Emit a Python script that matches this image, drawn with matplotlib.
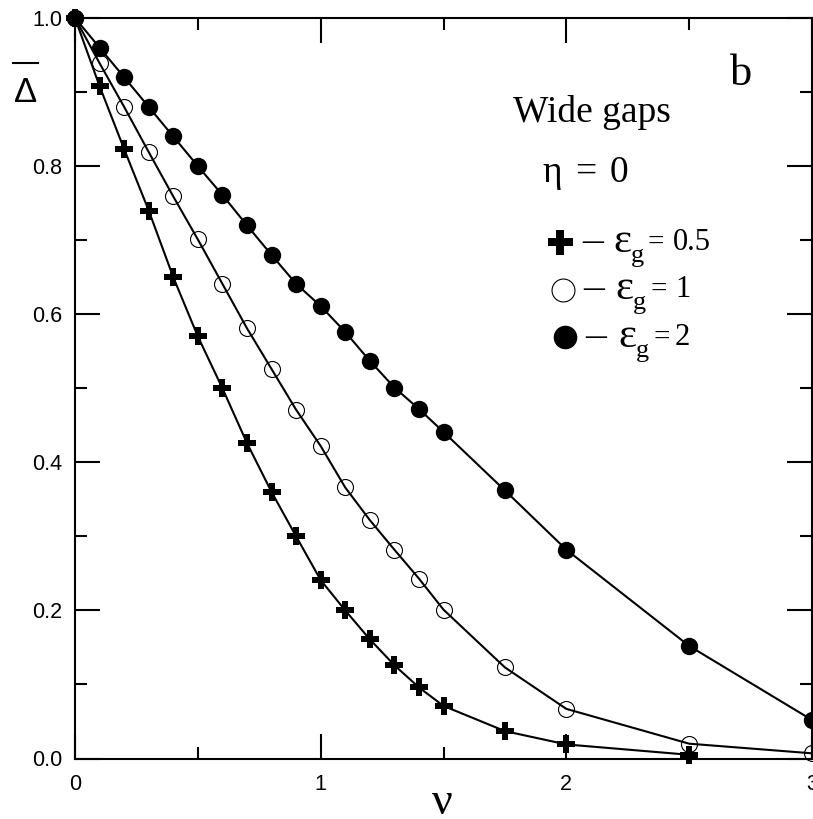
import matplotlib
matplotlib.use("Agg")
import matplotlib.pyplot as plt
from matplotlib.lines import Line2D

# nu values and mean gap for the three eps_g curves
nu_05 = [0, 0.1, 0.2, 0.3, 0.4, 0.5, 0.6, 0.7, 0.8, 0.9, 1.0, 1.1, 1.2, 1.3,
         1.4, 1.5, 1.75, 2.0, 2.5]
gap_05 = [1.0, 0.908, 0.823, 0.740, 0.650, 0.570, 0.500, 0.426, 0.360, 0.300,
          0.241, 0.200, 0.161, 0.126, 0.096, 0.071, 0.037, 0.019, 0.005]

nu_1 = [0, 0.1, 0.2, 0.3, 0.4, 0.5, 0.6, 0.7, 0.8, 0.9, 1.0, 1.1, 1.2, 1.3,
        1.4, 1.5, 1.75, 2.0, 2.5, 3.0]
gap_1 = [1.0, 0.939, 0.880, 0.819, 0.759, 0.701, 0.641, 0.581, 0.526, 0.471,
         0.422, 0.366, 0.322, 0.282, 0.243, 0.201, 0.123, 0.067, 0.020, 0.007]

nu_2 = [0, 0.1, 0.2, 0.3, 0.4, 0.5, 0.6, 0.7, 0.8, 0.9, 1.0, 1.1, 1.2, 1.3,
        1.4, 1.5, 1.75, 2.0, 2.5, 3.0]
gap_2 = [1.0, 0.960, 0.920, 0.880, 0.840, 0.800, 0.761, 0.720, 0.680, 0.641,
         0.611, 0.576, 0.537, 0.501, 0.472, 0.441, 0.362, 0.282, 0.152, 0.052]

eps_labels = ["0.5", "1", "2"]

x_ticks = [0, 1, 2, 3]
x_ticklabels = ["0", "1", "2", "3"]
y_ticks = [0.0, 0.2, 0.4, 0.6, 0.8, 1.0]
y_ticklabels = ["0.0", "0.2", "0.4", "0.6", "0.8", "1.0"]

W, H, DPI = 813, 819, 100
SERIF = "Liberation Serif"
SANS = "Liberation Sans"


def fx(px):
    return px / W


def fy(py):
    return 1 - py / H


def ftext(fig, x, y, s, size, family=SERIF, **kw):
    # text placed by pixel position (left, baseline)
    return fig.text(fx(x), fy(y), s, family=family, fontsize=size,
                    va="baseline", **kw)


def main():
    plt.rcParams["font.family"] = SANS
    fig = plt.figure(figsize=(W / DPI, H / DPI), dpi=DPI)
    ax = fig.add_axes([fx(75), fy(758.5), (812 - 75) / W, (758.5 - 18) / H])

    cross = dict(marker="P", ms=13, mew=0, mfc="black")
    ring = dict(marker="o", ms=11.5, mfc="none", mec="black", mew=0.8)
    dot = dict(marker="o", ms=12.5, mfc="black", mew=0)

    ax.plot(nu_05, gap_05, color="black", lw=1.5, clip_on=False, **cross)
    ax.plot(nu_1, gap_1, color="black", lw=1.5, clip_on=False, **ring)
    ax.plot(nu_2, gap_2, color="black", lw=1.5, clip_on=False, **dot)

    ax.set_xlim(0, 3)
    ax.set_ylim(0, 1)
    ax.set_xticks(x_ticks)
    ax.set_xticklabels(x_ticklabels)
    ax.set_xticks([0.5, 1.5, 2.5], minor=True)
    ax.set_yticks(y_ticks)
    ax.set_yticklabels(y_ticklabels)
    ax.set_yticks([0.1, 0.3, 0.5, 0.7, 0.9], minor=True)
    ax.tick_params(which="both", direction="in", top=True, right=True,
                   width=1.5, labelsize=15.5)
    ax.tick_params(which="major", length=18)
    ax.tick_params(which="minor", length=8.6)
    ax.tick_params(axis="x", pad=11)
    ax.tick_params(axis="y", pad=9)
    for s in ax.spines.values():
        s.set_linewidth(1.5)

    # axis labels
    ftext(fig, 14, 102, "Δ", 25, family=SANS)
    fig.add_artist(Line2D([fx(13), fx(38)], [fy(63), fy(63)],
                          color="black", lw=1.5))
    fig.text(fx(442), fy(814), "ν", family=SERIF, fontsize=33,
             ha="center", va="baseline")

    # annotations
    ftext(fig, 730, 85, "b", 32)
    ftext(fig, 513, 122, "Wide gaps", 27)
    ftext(fig, 542, 182, "η", 27)
    ftext(fig, 575, 182, "=", 27)
    ftext(fig, 610, 182, "0", 27)

    # hand-made legend
    markers = [dict(cross, ms=18), dict(ring, ms=16.5), dict(dot, ms=17)]
    mark_xy = [(560, 241.7), (563, 290), (565, 336.7)]
    dash_x = [582, 583, 585]
    eps_x = [613, 615, 618]
    base_y = [252, 299, 347]
    eq_x = [647, 650, 653]
    num_x = [673, 675, 675]
    for m, (mx, my), dx, ex, by, qx, nx, lab in zip(
            markers, mark_xy, dash_x, eps_x, base_y, eq_x, num_x, eps_labels):
        fig.add_artist(Line2D([fx(mx)], [fy(my)], color="black", **m))
        ftext(fig, dx, by, "–", 30)
        ftext(fig, ex, by, "ε", 31)
        ftext(fig, ex + 18, by + 10, "g", 19)
        ftext(fig, qx, by - 2, "=", 21)
        ftext(fig, nx, by - 2, lab, 22)

    fig.savefig("out.png", dpi=DPI)


if __name__ == "__main__":
    main()
